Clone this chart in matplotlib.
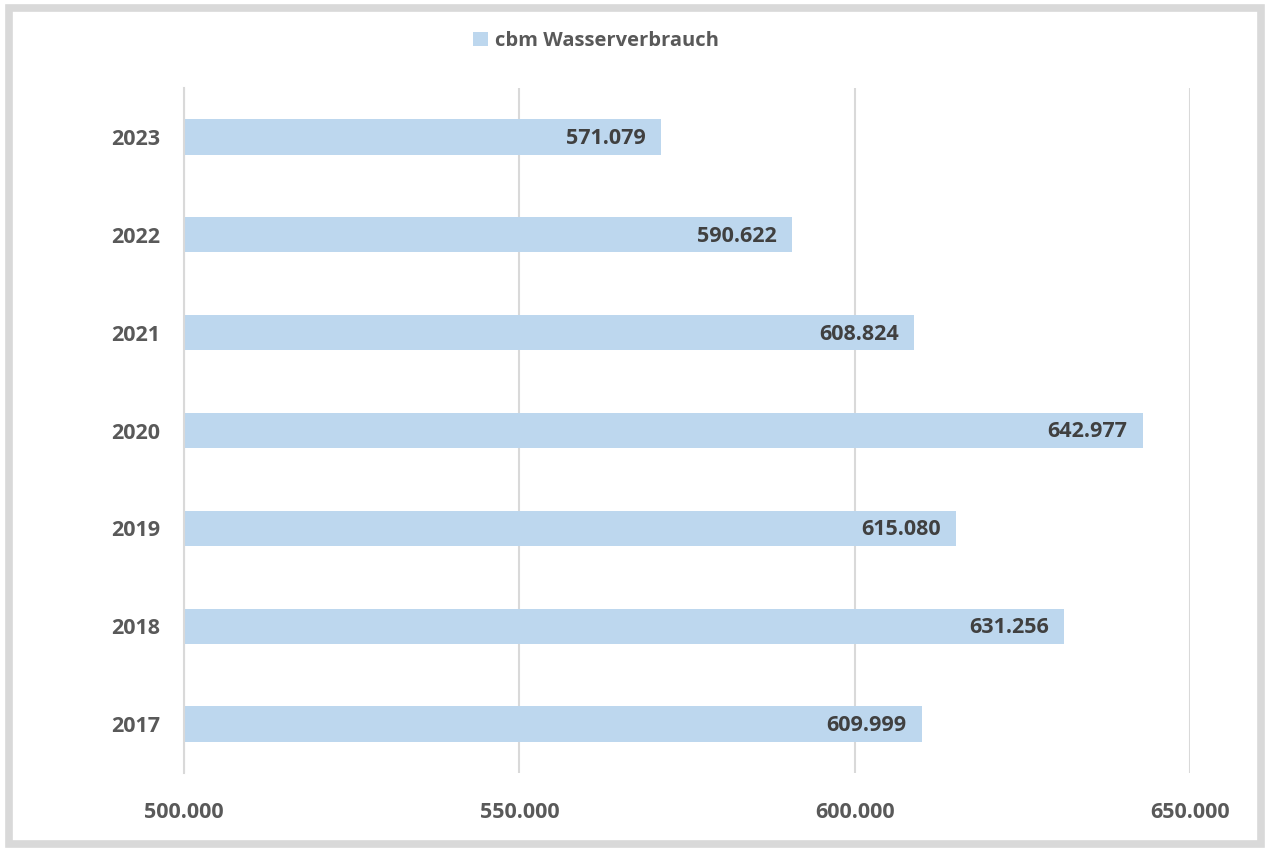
import matplotlib.pyplot as plt
from matplotlib.patches import Rectangle
from matplotlib.ticker import FuncFormatter

years = ['2017', '2018', '2019', '2020', '2021', '2022', '2023']
verbrauch = [609999, 631256, 615080, 642977, 608824, 590622, 571079]
x_ticks = [500000, 550000, 600000, 650000]

bar_col = '#BDD7EE'
grid_col = '#D9D9D9'
tick_col = '#595959'
label_col = '#404040'

plt.rcParams['font.family'] = ['Open Sans', 'DejaVu Sans']
plt.rcParams['font.weight'] = 'bold'


def de_fmt(v, pos=None):
    return f'{v:,.0f}'.replace(',', '.')


fig = plt.figure(figsize=(12.67, 8.48), dpi=100)
ax = fig.add_axes([184 / 1267, 1 - 773 / 848, (1190 - 184) / 1267, (773 - 88) / 848])

ax.barh(years, verbrauch, height=0.36, color=bar_col, zorder=2, label='cbm Wasserverbrauch')
for i, v in enumerate(verbrauch):
    ax.annotate(de_fmt(v), (v, i), xytext=(-11, -1), textcoords='offset points',
                ha='right', va='center', fontsize=15.5, fontweight='bold', color=label_col, zorder=3)

ax.set_xlim(500000, 650000)
ax.set_ylim(-0.5, 6.5)
ax.set_xticks(x_ticks)
ax.xaxis.set_major_formatter(FuncFormatter(de_fmt))
ax.grid(axis='x', color=grid_col, linewidth=1.5, zorder=0)
for s in ['top', 'right', 'bottom']:
    ax.spines[s].set_visible(False)
ax.spines['left'].set_color(grid_col)
ax.spines['left'].set_linewidth(1.5)
ax.tick_params(length=0, labelsize=15.5, labelcolor=tick_col)
ax.tick_params(axis='x', pad=21)
ax.tick_params(axis='y', pad=17)
for t in ax.get_xticklabels() + ax.get_yticklabels():
    t.set_fontweight('bold')

leg = fig.legend(loc='center', bbox_to_anchor=(596 / 1267, 1 - 41 / 848), frameon=False,
                 fontsize=14.5, handlelength=0.75, handleheight=0.75, handletextpad=0.35)
for t in leg.get_texts():
    t.set_color(tick_col)
    t.set_fontweight('bold')

# grey frame around the chart
fig.patches.append(Rectangle((9 / 1267, 4 / 848), 1 - 15 / 1267, 1 - 12 / 848,
                             transform=fig.transFigure, fill=False,
                             edgecolor=grid_col, linewidth=5.5))

fig.savefig('out.png', dpi=100)
